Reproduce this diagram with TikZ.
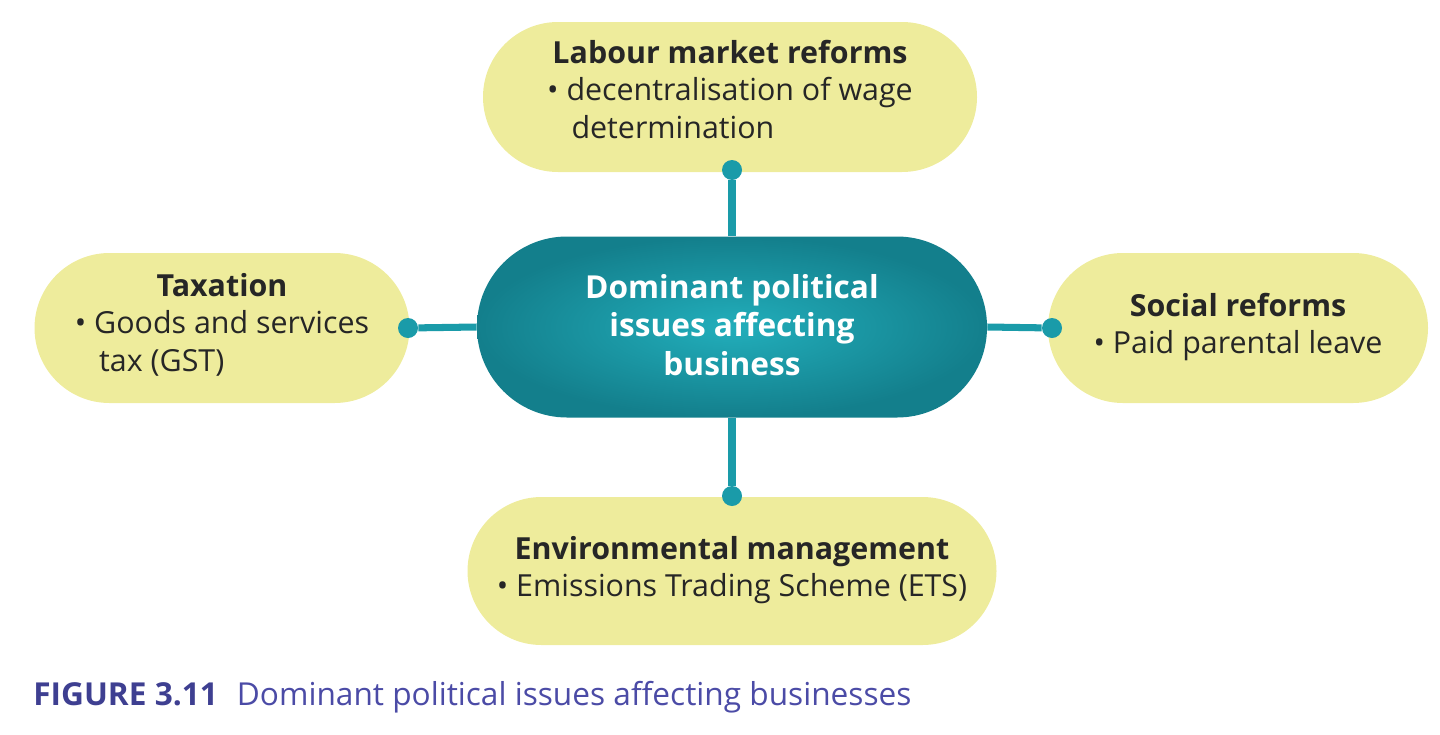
\documentclass[tikz,border=0pt]{standalone}
\usepackage{fontspec}
\setmainfont{Open Sans}
\definecolor{yel}{HTML}{EEEC9C}
\definecolor{teal1}{HTML}{1A9BA9}
\definecolor{tealin}{HTML}{22AEBB}
\definecolor{tealout}{HTML}{137F8C}
\definecolor{capc}{HTML}{3E3F91}
\definecolor{capt}{HTML}{4B4BA6}
\begin{document}
\begin{tikzpicture}[x=0.02cm,y=-0.02cm,
  box/.style={fill=yel,draw=none},
  boxtx/.style={align=center,font=\fontsize{17.3}{21.5}\selectfont,text=black!85},
  hub/.style={draw=none,inner color=tealin,outer color=tealout},
  hubtx/.style={align=center,text=white,font=\fontsize{18}{22}\selectfont\bfseries},
  con/.style={draw=teal1,line width=4pt},
  dot/.style={circle,fill=teal1,inner sep=0pt,minimum size=20*0.02cm}]
\useasboundingbox (0,0) rectangle (1440,734);
\node[box,minimum width=494*0.02cm,minimum height=150*0.02cm,rounded corners=75*0.02cm] (top) at (730,97) {};
\node[box,minimum width=375*0.02cm,minimum height=150*0.02cm,rounded corners=75*0.02cm] (lft) at (222,328) {};
\node[box,minimum width=380*0.02cm,minimum height=150*0.02cm,rounded corners=75*0.02cm] (rgt) at (1238,328) {};
\node[box,minimum width=529*0.02cm,minimum height=148*0.02cm,rounded corners=74*0.02cm] (bot) at (732,571) {};
\node[boxtx] (toptx) at (730,95) {\textbf{Labour market reforms}\\[5pt]\begin{tabular}{@{}l@{}}• decentralisation of wage\\\hspace{0.8em}determination\end{tabular}};
\node[boxtx] (lfttx) at (222,328) {\textbf{Taxation}\\[5pt]\begin{tabular}{@{}l@{}}• Goods and services\\\hspace{0.8em}tax (GST)\end{tabular}};
\node[boxtx] (rgttx) at (1238,327) {\textbf{Social reforms}\\ • Paid parental leave};
\node[boxtx] (bottx) at (732,570) {\textbf{Environmental management}\\ • Emissions Trading Scheme (ETS)};
\node[dot] (dt) at (732,170) {};
\node[dot] (dl) at (408,328) {};
\node[dot] (dr) at (1052,328) {};
\node[dot] (db) at (732,496) {};
\node[hub,minimum width=510*0.02cm,minimum height=181*0.02cm,rounded corners=90*0.02cm] (hub) at (732,327) {};
\draw[con] (hub.north) -- (dt);
\draw[con] (hub.west) -- (dl);
\draw[con] (hub.east) -- (dr);
\draw[con] (hub.south) -- (db);
\node[hubtx] (hubtxt) at (732,325) {Dominant political\\ issues affecting\\ business};
\node[anchor=west,inner sep=0pt,font=\fontsize{18}{21}\selectfont] (cap) at (33,697) {\textcolor{capc}{\textbf{FIGURE 3.11}}\hspace{0.6em}\textcolor{capt}{Dominant political issues affecting businesses}};
\end{tikzpicture}
\end{document}
